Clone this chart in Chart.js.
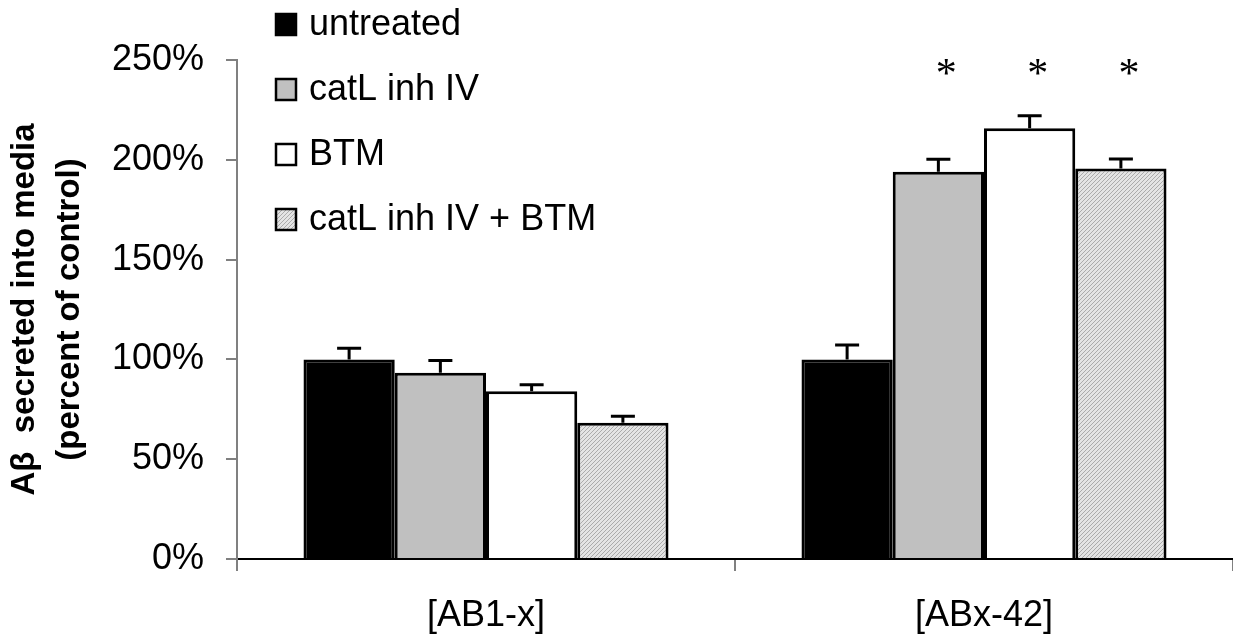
<!DOCTYPE html>
<html>
<head>
<meta charset="utf-8">
<script src="https://cdn.jsdelivr.net/npm/chart.js@4.4.0/dist/chart.umd.min.js"></script>
<style>
  html, body { margin: 0; padding: 0; background: #fff; }
  #wrap { width: 1233px; height: 641px; }
</style>
</head>
<body>
<div id="wrap"><canvas id="myChart"></canvas></div>
<script>
const categories = ['[AB1-x]', '[ABx-42]'];
const seriesNames = ['untreated', 'catL inh IV', 'BTM', 'catL inh IV + BTM'];

const untreated = [100, 100];
const catL = [93.3, 194.0];
const btm = [84.0, 215.8];
const catLBtm = [68.3, 195.7];

// standard error (upper bars only)
const untreatedErr = [5.6, 7.2];
const catLErr = [6.2, 6.3];
const btmErr = [3.3, 6.3];
const catLBtmErr = [3.2, 4.7];

// significance stars, per series per category
const untreatedStar = [false, false];
const catLStar = [false, true];
const btmStar = [false, true];
const catLBtmStar = [false, true];

const yTicks = [0, 50, 100, 150, 200, 250];
const starLevel = 242;

// fine diagonal hatch for the combined treatment
function hatch() {
    const c = document.createElement('canvas');
    c.width = 4; c.height = 4;
    const g = c.getContext('2d');
    g.fillStyle = '#e4e4e4';
    g.fillRect(0, 0, 4, 4);
    g.fillStyle = '#ababab';
    for (let i = 0; i < 4; i++) g.fillRect(3 - i, i, 1, 1);
    return g.createPattern(c, 'repeat');
}

const fills = ['#000000', '#c0c0c0', '#ffffff', hatch()];
const values = [untreated, catL, btm, catLBtm];
const errors = [untreatedErr, catLErr, btmErr, catLBtmErr];
const stars = [untreatedStar, catLStar, btmStar, catLBtmStar];

const FONT = 'Arial, "Liberation Sans", sans-serif';

const errorBars = {
    id: 'errorBars',
    afterDatasetsDraw(chart) {
        const c = chart.ctx;
        const y = chart.scales.y;
        c.save();
        c.strokeStyle = '#000';
        c.lineWidth = 3;
        chart.data.datasets.forEach((ds, i) => {
            chart.getDatasetMeta(i).data.forEach((bar, j) => {
                const top = y.getPixelForValue(ds.data[j] + errors[i][j]);
                c.beginPath();
                c.moveTo(bar.x, bar.y);
                c.lineTo(bar.x, top);
                c.moveTo(bar.x - 12, top);
                c.lineTo(bar.x + 12, top);
                c.stroke();
                if (stars[i][j]) {
                    c.fillStyle = '#000';
                    c.font = '42px "Liberation Serif", "Times New Roman", serif';
                    c.textAlign = 'center';
                    c.textBaseline = 'middle';
                    c.fillText('*', bar.x + 8, y.getPixelForValue(starLevel));
                }
            });
        });
        c.restore();
    }
};

const sideLegend = {
    id: 'sideLegend',
    afterDraw(chart) {
        const c = chart.ctx;
        c.save();
        c.font = '36px ' + FONT;
        c.textBaseline = 'middle';
        c.textAlign = 'left';
        chart.data.datasets.forEach((ds, i) => {
            const cy = 24 + i * 65;
            c.fillStyle = ds.backgroundColor;
            c.fillRect(276, cy - 10, 20, 21);
            c.lineWidth = 2.5;
            c.strokeStyle = '#000';
            c.strokeRect(276, cy - 10, 20, 21);
            c.fillStyle = '#000';
            c.fillText(ds.label, 309, cy + 1);
        });
        c.restore();
    }
};

const ctx = document.getElementById('myChart').getContext('2d');

new Chart(ctx, {
    type: 'bar',
    data: {
        labels: categories,
        datasets: seriesNames.map((name, i) => ({
            label: name,
            data: values[i],
            backgroundColor: fills[i],
            borderColor: '#000',
            borderWidth: 3,
            categoryPercentage: 0.733,
            barPercentage: 1
        }))
    },
    options: {
        responsive: true,
        maintainAspectRatio: false,
        animation: false,
        layout: {
            padding: { top: 60, bottom: 0, left: 0, right: 0 }
        },
        scales: {
            x: {
                afterFit: (scale) => { scale.height = 82; },
                grid: {
                    display: true,
                    drawOnChartArea: false,
                    offset: true,
                    tickLength: 12,
                    color: '#808080',
                    lineWidth: 2
                },
                border: { color: '#000', width: 2 },
                ticks: {
                    color: '#000',
                    padding: 23,
                    font: { family: FONT, size: 36 }
                }
            },
            y: {
                min: 0,
                max: 250,
                afterBuildTicks: (scale) => { scale.ticks = yTicks.map(v => ({ value: v })); },
                afterFit: (scale) => { scale.width = 237; },
                grid: {
                    drawOnChartArea: false,
                    tickLength: 11,
                    color: '#808080',
                    lineWidth: 2
                },
                border: { color: '#808080', width: 2 },
                ticks: {
                    color: '#000',
                    padding: 22,
                    font: { family: FONT, size: 36 },
                    callback: v => v + '%'
                },
                title: {
                    display: true,
                    text: ['A\u03B2  secreted into media', '(percent of control)'],
                    color: '#000',
                    padding: { top: 2, bottom: 0 },
                    font: { family: FONT, size: 33, weight: 'bold', lineHeight: 1.38 }
                }
            }
        },
        plugins: {
            legend: { display: false },
            tooltip: { enabled: false }
        }
    },
    plugins: [errorBars, sideLegend]
});
</script>
</body>
</html>
